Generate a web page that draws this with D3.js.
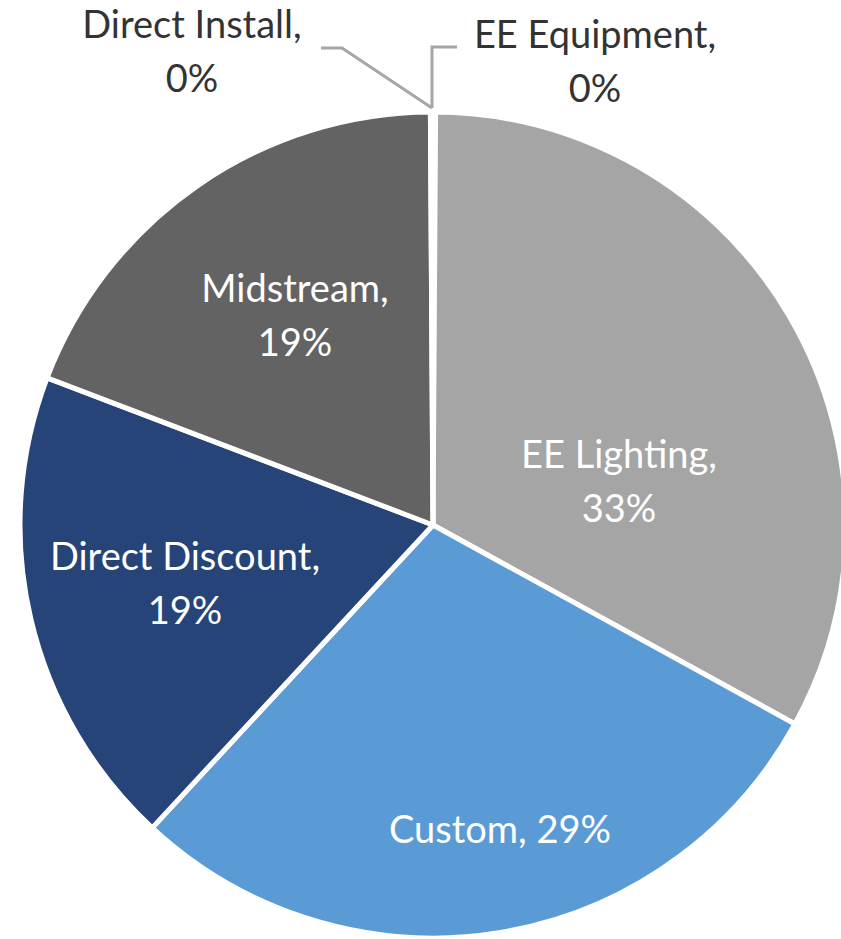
<!DOCTYPE html>
<html>
<head>
<meta charset="utf-8">
<script src="https://cdn.jsdelivr.net/npm/d3@7"></script>
<style>
  html, body { margin: 0; padding: 0; background: #fff; overflow: hidden; }
  svg { display: block; }
</style>
</head>
<body>
<svg id="chart" width="841" height="939"></svg>
<script>
// ---- data ----
const categories = ["EE Equipment", "EE Lighting", "Custom", "Direct Discount", "Midstream", "Direct Install"];
const shares = [0.1, 32.9, 28.9, 18.9, 19.1, 0.1];
const colors = ["#7f7f7f", "#a5a5a5", "#5b9bd5", "#264478", "#636363", "#7f7f7f"];

// ---- layout ----
const W = 841, H = 939;
const cx = 433, cy = 525, R = 413;
const fontFamily = "Lato, 'Open Sans', sans-serif";
const lineGap = 54;
// label anchors (center x, first baseline y) and whether single line / inside
const labelLayout = {
  "EE Equipment":    { x: 595, y: 48,  inside: false, oneLine: false },
  "EE Lighting":     { x: 619, y: 468, inside: true,  oneLine: false },
  "Custom":          { x: 500, y: 843, inside: true,  oneLine: true },
  "Direct Discount": { x: 185, y: 570, inside: true,  oneLine: false },
  "Midstream":       { x: 295, y: 302, inside: true,  oneLine: false },
  "Direct Install":  { x: 192, y: 38,  inside: false, oneLine: false }
};
const leaders = {
  "EE Equipment":   [[432, 108], [432, 47], [457, 47]],
  "Direct Install": [[432, 108], [342, 48], [321, 48]]
};

const data = categories.map((c, i) => ({ name: c, value: shares[i], color: colors[i] }));
const total = d3.sum(shares);
const pct = d3.format(".0%");

const svg = d3.select("#chart");
const g = svg.append("g").attr("transform", `translate(${cx},${cy})`);

const pie = d3.pie().sort(null).value(d => d.value);
const arc = d3.arc().innerRadius(0).outerRadius(R);

g.selectAll("path.slice")
  .data(pie(data))
  .join("path")
  .attr("class", "slice")
  .attr("d", arc)
  .attr("fill", d => d.data.color)
  .attr("stroke", "#fff")
  .attr("stroke-width", 5)
  .attr("stroke-linejoin", "round");

// leader lines
const line = d3.line();
Object.entries(leaders).forEach(([k, pts]) => {
  svg.append("path")
    .attr("d", line(pts))
    .attr("fill", "none")
    .attr("stroke", "#a6a6a6")
    .attr("stroke-width", 3);
});

// font sizing: fit "Direct Discount," to the reference width
const probe = svg.append("text").attr("font-family", fontFamily).attr("font-size", 36).text("Direct Discount,");
const w36 = probe.node().getComputedTextLength();
probe.remove();
const fontSize = Math.max(28, Math.min(38, 36 * 287 / w36));

const labels = svg.append("g").attr("font-family", fontFamily).attr("font-size", fontSize).attr("text-anchor", "middle");
data.forEach(d => {
  const L = labelLayout[d.name];
  const fill = L.inside ? "#ffffff" : "#333333";
  const t = labels.append("text").attr("fill", fill);
  const p = pct(d.value / total);
  if (L.oneLine) {
    t.append("tspan").attr("x", L.x).attr("y", L.y).text(`${d.name}, ${p}`);
  } else {
    t.append("tspan").attr("x", L.x).attr("y", L.y).text(`${d.name},`);
    t.append("tspan").attr("x", L.x).attr("y", L.y + lineGap).text(p);
  }
});
</script>
</body>
</html>
